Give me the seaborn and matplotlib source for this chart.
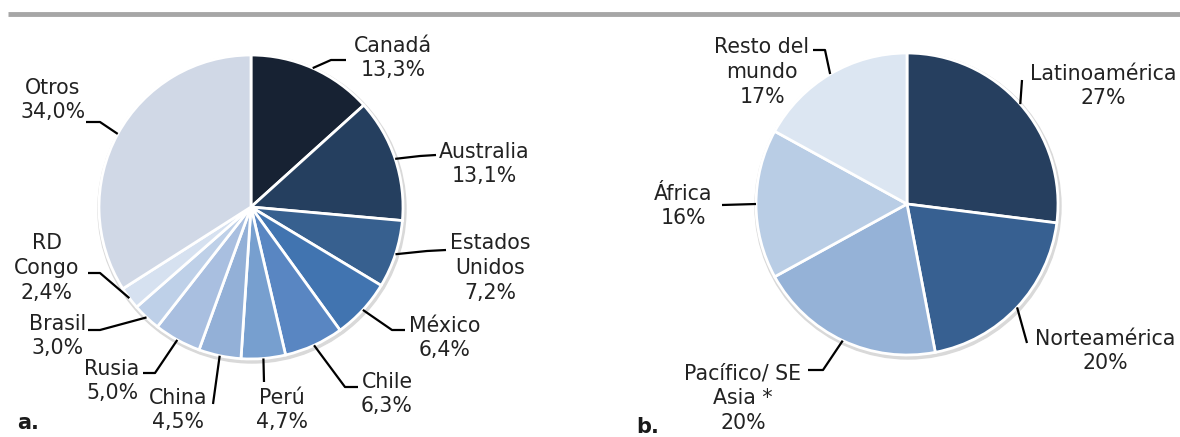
import numpy as np
import matplotlib.pyplot as plt
import seaborn as sns

sns.set_theme(style="white")
plt.rcParams['font.family'] = ['DejaVu Sans']

# panel a: producción por país (%)
paises = ["Canadá", "Australia", "Estados\nUnidos", "México", "Chile", "Perú",
          "China", "Rusia", "Brasil", "RD\nCongo", "Otros"]
share_a = [13.3, 13.1, 7.2, 6.4, 6.3, 4.7, 4.5, 5.0, 3.0, 2.4, 34.0]
colors_a = ["#172233", "#253F5F", "#37608F", "#4174B0", "#5986C2", "#779FCF",
            "#93B0D7", "#A9BFE0", "#BED0E8", "#D6E1F0", "#D0D8E6"]

# panel b: por región (%)
regiones = ["Latinoamérica", "Norteamérica", "Pacífico/ SE\nAsia *", "África",
            "Resto del\nmundo"]
share_b = [27, 20, 20, 16, 17]
colors_b = ["#263F5F", "#376091", "#95B2D7", "#B9CDE5", "#DCE6F2"]

# label layout in pixels: text centre, elbow, stub end
lay_a = [((393, 58), (331, 60), (346, 60)),
         ((484, 164), (420, 156), (436, 155)),
         ((490, 268), (427, 251), (446, 250)),
         ((445, 338), (392, 330), (405, 330)),
         ((387, 394), (345, 387), (358, 387)),
         ((282, 410), (264, 382), (264, 382)),
         ((178, 410), (213, 404), (213, 404)),
         ((112, 381), (155, 373), (143, 373)),
         ((58, 336), (100, 330), (88, 330)),
         ((47, 268), (100, 273), (88, 273)),
         ((53, 100), (100, 122), (86, 122))]
lay_b = [((1103, 86), (1022, 80), (1022, 80)),
         ((1105, 351), (1027, 343), (1027, 343)),
         ((743, 398), (823, 370), (808, 370)),
         ((683, 206), (722, 205), (722, 205)),
         ((762, 72), (825, 50), (813, 50))]

W, H = 1180, 437
fig = plt.figure(figsize=(W / 100, H / 100), dpi=100)
ax = fig.add_axes([0, 0, 1, 1])


def draw_pie(center, r, values, cols, names, pct, layout):
    # soft grey rim like the original
    ax.add_patch(plt.Circle((center[0] + 1, center[1] + 2), r + 2,
                            color="#D9D9D9", zorder=0))
    wedges, _ = ax.pie(values, colors=cols, center=center, radius=r,
                       startangle=-90, counterclock=True,
                       wedgeprops=dict(edgecolor="white", linewidth=2),
                       frame=True)
    for w, name, p, (txt, elbow, end) in zip(wedges, names, pct, layout):
        th = np.deg2rad((w.theta1 + w.theta2) / 2)
        ex = center[0] + r * np.cos(th)
        ey = center[1] + r * np.sin(th)
        ax.plot([ex, elbow[0], end[0]], [ey, elbow[1], end[1]],
                color="black", lw=1.6, solid_capstyle="butt", zorder=3)
        ax.text(txt[0], txt[1], f"{name}\n{p}", ha="center", va="center",
                multialignment="center", fontsize=14.8, color="#222222",
                linespacing=1.3)


draw_pie((251, 207), 152, share_a, colors_a, paises,
         [f"{v:.1f}%".replace(".", ",") for v in share_a], lay_a)
draw_pie((907, 204), 151, share_b, colors_b, regiones,
         [f"{v:.0f}%" for v in share_b], lay_b)

# top rule
ax.plot([8, W], [14, 14], color="#A6A6A6", lw=3.5, solid_capstyle="butt")

ax.text(17, 423, "a.", fontsize=15, fontweight="bold", ha="left", va="center",
        color="#1A1A1A")
ax.text(636, 427, "b.", fontsize=15, fontweight="bold", ha="left", va="center",
        color="#1A1A1A")

ax.set_aspect("auto")
ax.set_xlim(0, W)
ax.set_ylim(H, 0)
ax.axis("off")

fig.savefig("out.png", dpi=100)
